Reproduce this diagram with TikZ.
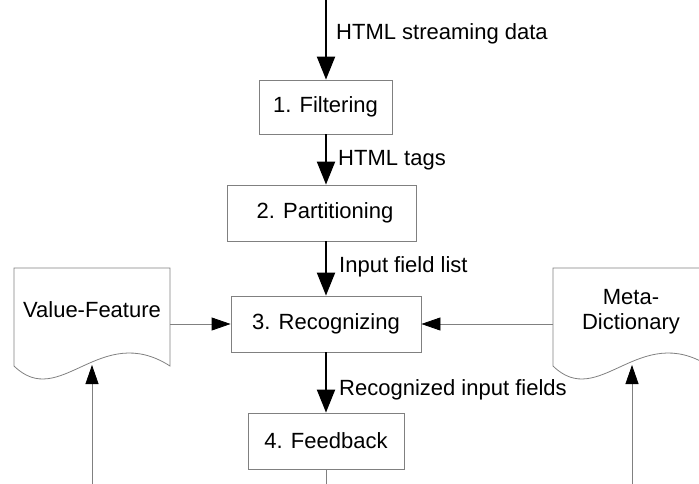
\documentclass[tikz,border=0pt]{standalone}
\usepackage{fontspec}
\setmainfont{Liberation Sans}
\usetikzlibrary{arrows.meta}
\definecolor{edge}{RGB}{128,128,128}
\tikzset{
  every node/.style={font=\fontsize{22}{25}\selectfont, inner sep=0pt},
  stepbox/.style={draw=edge, line width=0.8pt, rectangle, fill=white},
  mainflow/.style={line width=2pt, draw=black, -{Triangle[length=23pt,width=18pt]}},
  sideflow/.style={line width=0.8pt, draw=edge, -{Triangle[length=19pt,width=13pt,color=black]}},
  plainline/.style={line width=0.8pt, draw=edge},
  docshape/.style={draw=edge, line width=0.8pt},
  flowlabel/.style={anchor=west}
}
\begin{document}
\begin{tikzpicture}[x=1pt,y=-1pt]
\useasboundingbox (0,0) rectangle (699,484);
\clip (0,0) rectangle (699,484);
% boxes
\node[stepbox, minimum width=133pt, minimum height=54pt] (b1) at (325.5,107) {1. Filtering};
\node[stepbox, minimum width=189pt, minimum height=56pt] (b2) at (321.5,213) {\hspace*{7pt}2. Partitioning};
\node[stepbox, minimum width=190pt, minimum height=56pt] (b3) at (326,324) {3. Recognizing};
\node[stepbox, minimum width=156pt, minimum height=56pt] (b4) at (326,441) {4. Feedback};
% documents
\draw[docshape] (14,366) -- (14,268) -- (170,268) -- (170,366)
  .. controls (100,321) and (60,411) .. (14,366);
\node (vf) at (92,310) {Value-Feature};
\coordinate (vfright) at (170,324);
\coordinate (vfbottom) at (92,365);
\draw[docshape] (553,366) -- (553,268) -- (709,268) -- (709,366)
  .. controls (639,321) and (599,411) .. (553,366);
\node[align=center] (md) at (631,312) {Meta-\\Dictionary};
\coordinate (mdleft) at (553,324);
\coordinate (mdbottom) at (632,365);
% free ends
\coordinate (top) at (326,0);
\coordinate (vfsrc) at (92,484);
\coordinate (mdsrc) at (632,484);
\coordinate (fbend) at (326,484);
% main flow
\draw[mainflow] (top) -- (top |- b1.north);
\draw[mainflow] (b1.south -| top) -- (b2.north -| top);
\draw[mainflow] (b2.south -| top) -- (b3.north -| top);
\draw[mainflow] (b3.south -| top) -- (b4.north -| top);
\draw[plainline] (b4.south -| top) -- (fbend);
% side flows
\draw[sideflow] (vfright) -- (b3.west);
\draw[sideflow] (mdleft) -- (b3.east);
\draw[sideflow] (vfsrc) -- (vfbottom);
\draw[sideflow] (mdsrc) -- (mdbottom);
% labels
\node[flowlabel] (l1) at (336,34) {HTML streaming data};
\node[flowlabel] (l2) at (338,160) {HTML tags};
\node[flowlabel] (l3) at (339,267) {Input field list};
\node[flowlabel] (l4) at (339,390) {Recognized input fields};
\end{tikzpicture}
\end{document}
